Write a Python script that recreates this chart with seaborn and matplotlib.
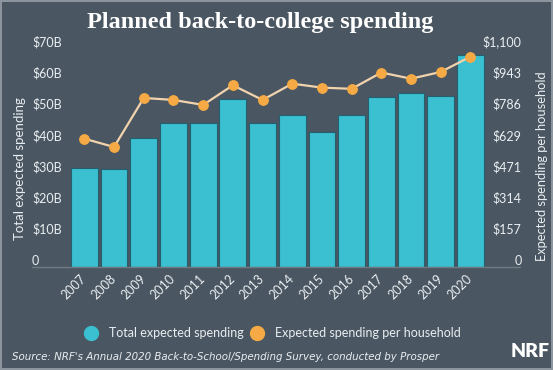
import numpy as np
import pandas as pd
import matplotlib
matplotlib.use("Agg")
import matplotlib.pyplot as plt
from matplotlib.lines import Line2D
import seaborn as sns

# values
years = ["2007", "2008", "2009", "2010", "2011", "2012", "2013",
         "2014", "2015", "2016", "2017", "2018", "2019", "2020"]
total_spending = [31.8, 31.3, 41.2, 46.2, 46.2, 53.8, 46.0,
                  48.8, 43.4, 48.7, 54.4, 55.7, 54.8, 67.9]
per_household = [646, 604, 851, 841, 816, 915, 841,
                 923, 903, 897, 979, 948, 982, 1059]
left_ticks = [0, 10, 20, 30, 40, 50, 60, 70]
left_labels = ["0", "$10B", "$20B", "$30B", "$40B", "$50B", "$60B", "$70B"]
right_ticks = [0, 157, 314, 471, 629, 786, 943, 1100]
right_labels = ["0", "$157", "$314", "$471", "$629", "$786", "$943", "$1,100"]

bg = "#4a5661"
teal = "#3ac0d0"
orange = "#f6aa45"
peach = "#f1d3ae"
txt = "#e9eef2"

sns.set_style("white")
plt.rcParams["font.family"] = ["Lato", "DejaVu Sans"]

df = pd.DataFrame({"year": years, "total": total_spending})

fig = plt.figure(figsize=(5.53, 3.70), dpi=100, facecolor=bg)
ax = fig.add_axes([0.123, 0.2784, 0.7573, 0.5905])
ax.set_facecolor(bg)

sns.barplot(data=df, x="year", y="total", ax=ax, color=teal, saturation=1,
            width=0.9, edgecolor="#24606f", linewidth=0.8)
ax.set_xlim(-0.55, len(years) - 0.45)
ax.set_ylim(0, 70)
ax.set_yticks(left_ticks)
ax.set_yticklabels(left_labels)
ax.set_xlabel("")
ax.set_ylabel("Total expected spending", color=txt, fontsize=9.5)
ax.yaxis.set_label_coords(-0.10, 0.45)
ax.tick_params(axis="y", length=0, pad=26, labelsize=9, labelcolor=txt)
ax.tick_params(axis="x", length=0, pad=7, labelsize=9, labelcolor=txt)
plt.setp(ax.get_yticklabels(), ha="left", va="bottom")
plt.setp(ax.get_xticklabels(), rotation=45, ha="right", va="center",
         rotation_mode="anchor")
for s in ax.spines.values():
    s.set_visible(False)
ax.axhline(0, xmin=-0.085, xmax=1.08, color="#6f7a84", lw=1, clip_on=False)

ax2 = ax.twinx()
sns.lineplot(x=np.arange(len(years)), y=per_household, ax=ax2, color=peach,
             lw=1.6, marker="o", markersize=7, markerfacecolor=orange,
             markeredgecolor=orange)
ax2.set_ylim(0, 1100)
ax2.set_yticks(right_ticks)
ax2.set_yticklabels(right_labels)
ax2.set_ylabel("Expected spending per household", color=txt, fontsize=9.3,
               rotation=90)
ax2.yaxis.set_label_coords(1.118, 0.46)
ax2.tick_params(axis="y", length=0, pad=25, labelsize=9, labelcolor=txt)
plt.setp(ax2.get_yticklabels(), ha="right", va="bottom")
for s in ax2.spines.values():
    s.set_visible(False)

fig.text(0.47, 0.94, "Planned back-to-college spending", ha="center",
         va="center", color="white", fontsize=17.5, fontweight="bold",
         family=["Liberation Serif", "DejaVu Serif"])

handles = [
    Line2D([], [], ls="", marker="o", markersize=10, color=teal),
    Line2D([], [], ls="", marker="o", markersize=10, color=orange),
]
fig.legend(handles, ["Total expected spending", "Expected spending per household"],
           loc="center", bbox_to_anchor=(0.49, 0.1), ncol=2, frameon=False,
           fontsize=9, labelcolor=txt, handlelength=1.5, handletextpad=0.7,
           columnspacing=0.3)

fig.text(0.022, 0.035, "Source: NRF's Annual 2020 Back-to-School/Spending Survey, conducted by Prosper",
         color=txt, fontsize=7.4, style="italic", va="center",
         family="DejaVu Sans")
fig.text(0.993, 0.05, "NRF", color="white", fontsize=14, fontweight="heavy",
         ha="right", va="center")

fig.patch.set_edgecolor("#8c959d")
fig.patch.set_linewidth(1.5)

fig.savefig("out.png", dpi=100, facecolor=bg, edgecolor=fig.patch.get_edgecolor())
